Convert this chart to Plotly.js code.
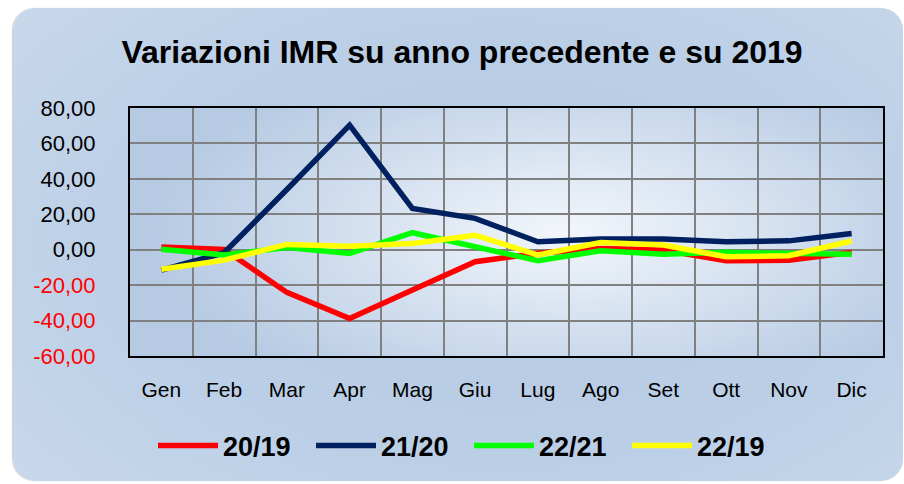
<!DOCTYPE html>
<html>
<head>
<meta charset="utf-8">
<script src="https://cdn.plot.ly/plotly-3.0.1.min.js"></script>
<style>
  html, body { margin: 0; padding: 0; background: #ffffff; }
  #wrap { position: relative; width: 904px; height: 484px; overflow: hidden; background: #ffffff; }
  #panel { position: absolute; left: 13px; top: 8px; width: 890px; height: 473px; border-radius: 22px;
    background: radial-gradient(ellipse 70% 80% at 55% 50%, #b6cbe4 0%, #bacee6 55%, #c8d8eb 100%);
    box-shadow: -1px 0 1px rgba(120,120,120,0.35); }
  #plotbg { position: absolute; background: radial-gradient(ellipse 55% 75% at 58% 50%, #f2f6fb 0%, #d8e3f1 45%, #b6cae3 100%); }
  #chart { position: absolute; left: 0; top: 0; width: 904px; height: 484px; }
</style>
</head>
<body>
<div id="wrap">
  <div id="panel"></div>
  <div id="plotbg"></div>
  <div id="chart"></div>
</div>
<script>
// ---- data ----
const months = ["Gen","Feb","Mar","Apr","Mag","Giu","Lug","Ago","Set","Ott","Nov","Dic"];
const seriesNames = ["20/19","21/20","22/21","22/19"];
const v2019 = [1.6, 0.2, -24.1, -38.8, -22.8, -6.8, -2.0, 0.7, -0.2, -6.3, -5.9, -1.5];
const v2120 = [-11.5, -1.7, 34.0, 70.3, 23.3, 17.7, 4.5, 6.0, 6.0, 4.5, 5.0, 9.2];
const v2221 = [0.2, -3.0, 1.3, -2.1, 9.6, 1.3, -6.2, -0.6, -2.5, -1.5, -2.1, -2.5];
const v2219 = [-11.0, -5.9, 3.0, 2.0, 3.5, 8.2, -3.0, 4.1, 2.6, -4.0, -3.4, 4.9];
const yTickVals = [-60, -40, -20, 0, 20, 40, 60, 80];
const yTickText = ["-60,00","-40,00","-20,00","0,00","20,00","40,00","60,00","80,00"];
const titleText = "Variazioni IMR su anno precedente e su 2019";

// ---- layout ----
const W = 904, H = 484;
const M = { l: 130, r: 21, t: 108, b: 128 };
const colors = ["#ff0000", "#002060", "#00ff00", "#ffff00"];
const values = [v2019, v2120, v2221, v2219];

const bg = document.getElementById('plotbg');
bg.style.left = M.l + 'px';
bg.style.top = M.t + 'px';
bg.style.width = (W - M.l - M.r) + 'px';
bg.style.height = (H - M.t - M.b) + 'px';

const traces = values.map((v, i) => ({
  type: 'scatter',
  mode: 'lines',
  x: months,
  y: v,
  name: '<b>' + seriesNames[i] + '</b>',
  line: { color: colors[i], width: 5.5 },
  hoverinfo: 'skip'
}));

const tickTextColored = yTickText.map((t, i) =>
  yTickVals[i] < 0 ? '<span style="fill:#ff0000">' + t + '</span>' : t);

const layout = {
  width: W, height: H,
  margin: M,
  paper_bgcolor: 'rgba(0,0,0,0)',
  plot_bgcolor: 'rgba(0,0,0,0)',
  font: { family: '"Liberation Sans", Arial, sans-serif', color: '#000000', size: 21 },
  title: {
    text: '<b>' + titleText + '</b>',
    font: { size: 32, color: '#000000', family: '"Liberation Sans", Arial, sans-serif' },
    x: 462 / W, xanchor: 'center', xref: 'container',
    y: 1 - 52 / H, yanchor: 'middle', yref: 'container'
  },
  xaxis: {
    type: 'category',
    tickson: 'boundaries',
    showgrid: true, gridcolor: '#808080', gridwidth: 2,
    showline: true, linecolor: '#000000', linewidth: 2, mirror: true,
    ticks: '', ticklabelstandoff: 14,
    tickfont: { size: 21, color: '#000000' },
    range: [-0.5, 11.5], fixedrange: true
  },
  yaxis: {
    range: [-60, 80],
    tickmode: 'array', tickvals: yTickVals, ticktext: tickTextColored,
    showgrid: true, gridcolor: '#808080', gridwidth: 2,
    zeroline: false,
    showline: true, linecolor: '#000000', linewidth: 2, mirror: true,
    ticks: '', ticklabelstandoff: 28,
    tickfont: { size: 22, color: '#000000' },
    fixedrange: true
  },
  showlegend: true,
  legend: {
    orientation: 'h',
    x: (153 - M.l) / (W - M.l - M.r), xanchor: 'left',
    y: (H - M.b - 446) / (H - M.t - M.b), yanchor: 'middle',
    font: { size: 27, color: '#000000', family: '"Liberation Sans", Arial, sans-serif' },
    itemwidth: 60,
    entrywidth: 83,
    entrywidthmode: 'pixels',
    bgcolor: 'rgba(0,0,0,0)',
    traceorder: 'normal'
  }
};

Plotly.newPlot('chart', traces, layout, { displayModeBar: false, staticPlot: true });
</script>
</body>
</html>
